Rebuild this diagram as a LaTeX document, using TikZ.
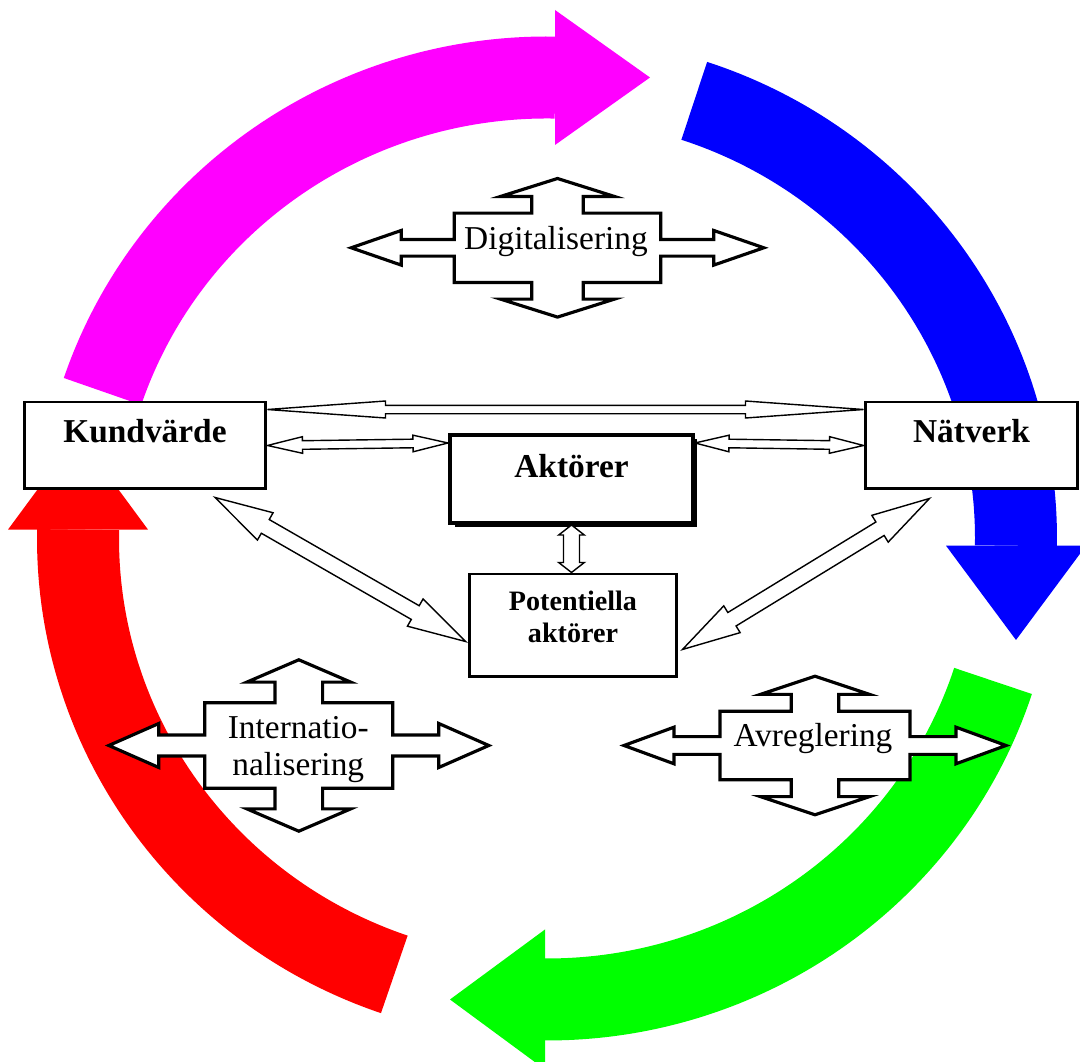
\documentclass[tikz,border=0pt]{standalone}
\usepackage{fontspec}
\setmainfont{Liberation Serif}
\usetikzlibrary{calc}
\usetikzlibrary{shadows}
\definecolor{ringmag}{RGB}{255,0,255}
\definecolor{ringblue}{RGB}{0,0,255}
\definecolor{ringgreen}{RGB}{0,255,0}
\definecolor{ringred}{RGB}{255,0,0}
\newcommand{\pxu}{0.02cm}
\tikzset{
  box/.style={draw, fill=white, line width=1.7pt, inner sep=0pt, font=\fontsize{19}{21}\selectfont\bfseries},
  hollow/.style={draw, fill=white, line width=0.8pt, line join=miter},
  cross/.style={draw, fill=white, line width=1.8pt, line join=miter},
  ring/.style={line width=1.64cm},
  crosstext/.style={font=\fontsize{19}{21.4}\selectfont, align=center, inner sep=0pt}
}
% hollow double arrow: from, to, head length, head half width, shaft half width
\newcommand{\dblarrow}[5]{%
  \draw[hollow] (#1)
    -- ($(#1)!#3*\pxu!(#2)!#4*\pxu!90:(#2)$)
    -- ($(#1)!#3*\pxu!(#2)!#5*\pxu!90:(#2)$)
    -- ($(#2)!#3*\pxu!(#1)!#5*\pxu!-90:(#1)$)
    -- ($(#2)!#3*\pxu!(#1)!#4*\pxu!-90:(#1)$)
    -- (#2)
    -- ($(#2)!#3*\pxu!(#1)!#4*\pxu!90:(#1)$)
    -- ($(#2)!#3*\pxu!(#1)!#5*\pxu!90:(#1)$)
    -- ($(#1)!#3*\pxu!(#2)!#5*\pxu!-90:(#2)$)
    -- ($(#1)!#3*\pxu!(#2)!#4*\pxu!-90:(#2)$)
    -- cycle;}
% four way arrow: centre, body w/2, body h/2, side shaft h/2, side head h/2, side shaft length,
% top shaft w/2, top head w/2, top arm length
\newcommand{\crossarrow}[9]{%
  \begin{scope}[shift={(#1)}]
    \draw[cross] ({#2+#6+50},0) -- ({#2+#6},{-#5}) -- ({#2+#6},{-#4}) -- (#2,{-#4})
      -- (#2,{-#3}) -- (#7,{-#3}) -- (#7,{-#3-0.48*#9}) -- (#8,{-#3-0.48*#9})
      -- (0,{-#3-#9}) -- ({-#8},{-#3-0.48*#9}) -- ({-#7},{-#3-0.48*#9}) -- ({-#7},{-#3})
      -- ({-#2},{-#3}) -- ({-#2},{-#4}) -- ({-#2-#6},{-#4}) -- ({-#2-#6},{-#5})
      -- ({-#2-#6-50},0) -- ({-#2-#6},#5) -- ({-#2-#6},#4) -- ({-#2},#4)
      -- ({-#2},#3) -- ({-#7},#3) -- ({-#7},{#3+0.48*#9}) -- ({-#8},{#3+0.48*#9})
      -- (0,{#3+#9}) -- (#8,{#3+0.48*#9}) -- (#7,{#3+0.48*#9}) -- (#7,#3)
      -- (#2,#3) -- (#2,#4) -- ({#2+#6},#4) -- ({#2+#6},#5) -- cycle;
  \end{scope}}

\begin{document}
\begin{tikzpicture}[x=\pxu, y=\pxu]
  \useasboundingbox (0,0) rectangle (1080,1062);
  %ring of arrows
  \coordinate (ctr) at (547,523.5);
  \begin{scope}[shift={(ctr)}]
    \draw[ring, ringmag] (161.4:469 and 461) arc[start angle=161.4, end angle=89, x radius=469, y radius=461];
    \draw[ring, ringblue] (71.7:469 and 461) arc[start angle=71.7, end angle=-0.9, x radius=469, y radius=461];
    \draw[ring, ringgreen] (-18:469 and 461) arc[start angle=-18, end angle=-90.24, x radius=469, y radius=461];
    \draw[ring, ringred] (251:469 and 461) arc[start angle=251, end angle=178.9, x radius=469, y radius=461];
  \end{scope}
  %heads
  \fill[ringmag] (555,1052) -- (555,917) -- (650,984.5) -- cycle;
  \fill[ringblue] (946,516.3) -- (1086,516.3) -- (1016,422) -- cycle;
  \fill[ringgreen] (545,132.5) -- (545,-7.5) -- (450,62.5) -- cycle;
  \fill[ringred] (8,532.4) -- (148,532.4) -- (78,627.4) -- cycle;

  %boxes
  \node[box, minimum width=4.84cm, text height=0.82cm, text depth=0.92cm] (kund) at (145,616.5) {Kundvärde};
  \node[box, minimum width=4.26cm, text height=0.82cm, text depth=0.92cm] (natv) at (971.5,616.5) {Nätverk};
  \node[box, line width=2.3pt, minimum width=4.86cm, text height=0.86cm, text depth=0.9cm,
    drop shadow={shadow xshift=0.09cm, shadow yshift=-0.09cm, fill=black, opacity=1}] (akt) at (571.5,583) {Aktörer};
  \node[box, align=center, minimum width=4.16cm, text height=1.38cm, text depth=0.68cm,
    font=\fontsize{16}{18.7}\selectfont\bfseries] (pot) at (573,436.5) {Potentiella\\aktörer};

  %forces
  \coordinate (digic) at (557.5,814.2);
  \crossarrow{digic}{103.3}{34.7}{8.3}{17.3}{53}{25.7}{57}{34.6}
  \node[crosstext, anchor=base] (digi) at (556,812) {Digitalisering};
  \coordinate (interc) at (298.8,316.5);
  \crossarrow{interc}{94}{42.7}{10.5}{22}{46}{23.8}{52}{43}
  \node[crosstext] (inter) at (298.3,312.6) {Internatio-\\nalisering};
  \coordinate (avregc) at (815,316.5);
  \crossarrow{avregc}{95}{34.3}{8.85}{18.3}{46}{23.7}{54.5}{35}
  \node[crosstext, anchor=base] (avreg) at (813,315.3) {Avreglering};

  %links
  \coordinate (kn) at ($(kund.north east)+(0,-9)$);
  \coordinate (nk) at ($(natv.north west)+(0,-9)$);
  \dblarrow{kn}{nk}{118}{8.5}{4.2}
  \coordinate (ka) at ($(akt.north west)+(0,-10)$);
  \dblarrow{kund.east}{ka}{35}{8.3}{4.3}
  \coordinate (an) at ($(akt.north east)+(0,-10)$);
  \dblarrow{an}{natv.west}{34}{8.3}{4.3}
  \coordinate (ap) at (akt.south |- pot.north);
  \dblarrow{akt.south}{ap}{10}{12.8}{8}
  \coordinate (kp1) at ($(kund.south)+(70,-7)$);
  \coordinate (kp2) at ($(pot.west)+(-2,-16)$);
  \dblarrow{kp1}{kp2}{58}{15.7}{7.9}
  \coordinate (np1) at ($(natv.south)+(-42,-8)$);
  \coordinate (np2) at ($(pot.east)+(4,-24)$);
  \dblarrow{np1}{np2}{58}{15.7}{7.9}
\end{tikzpicture}
\end{document}
